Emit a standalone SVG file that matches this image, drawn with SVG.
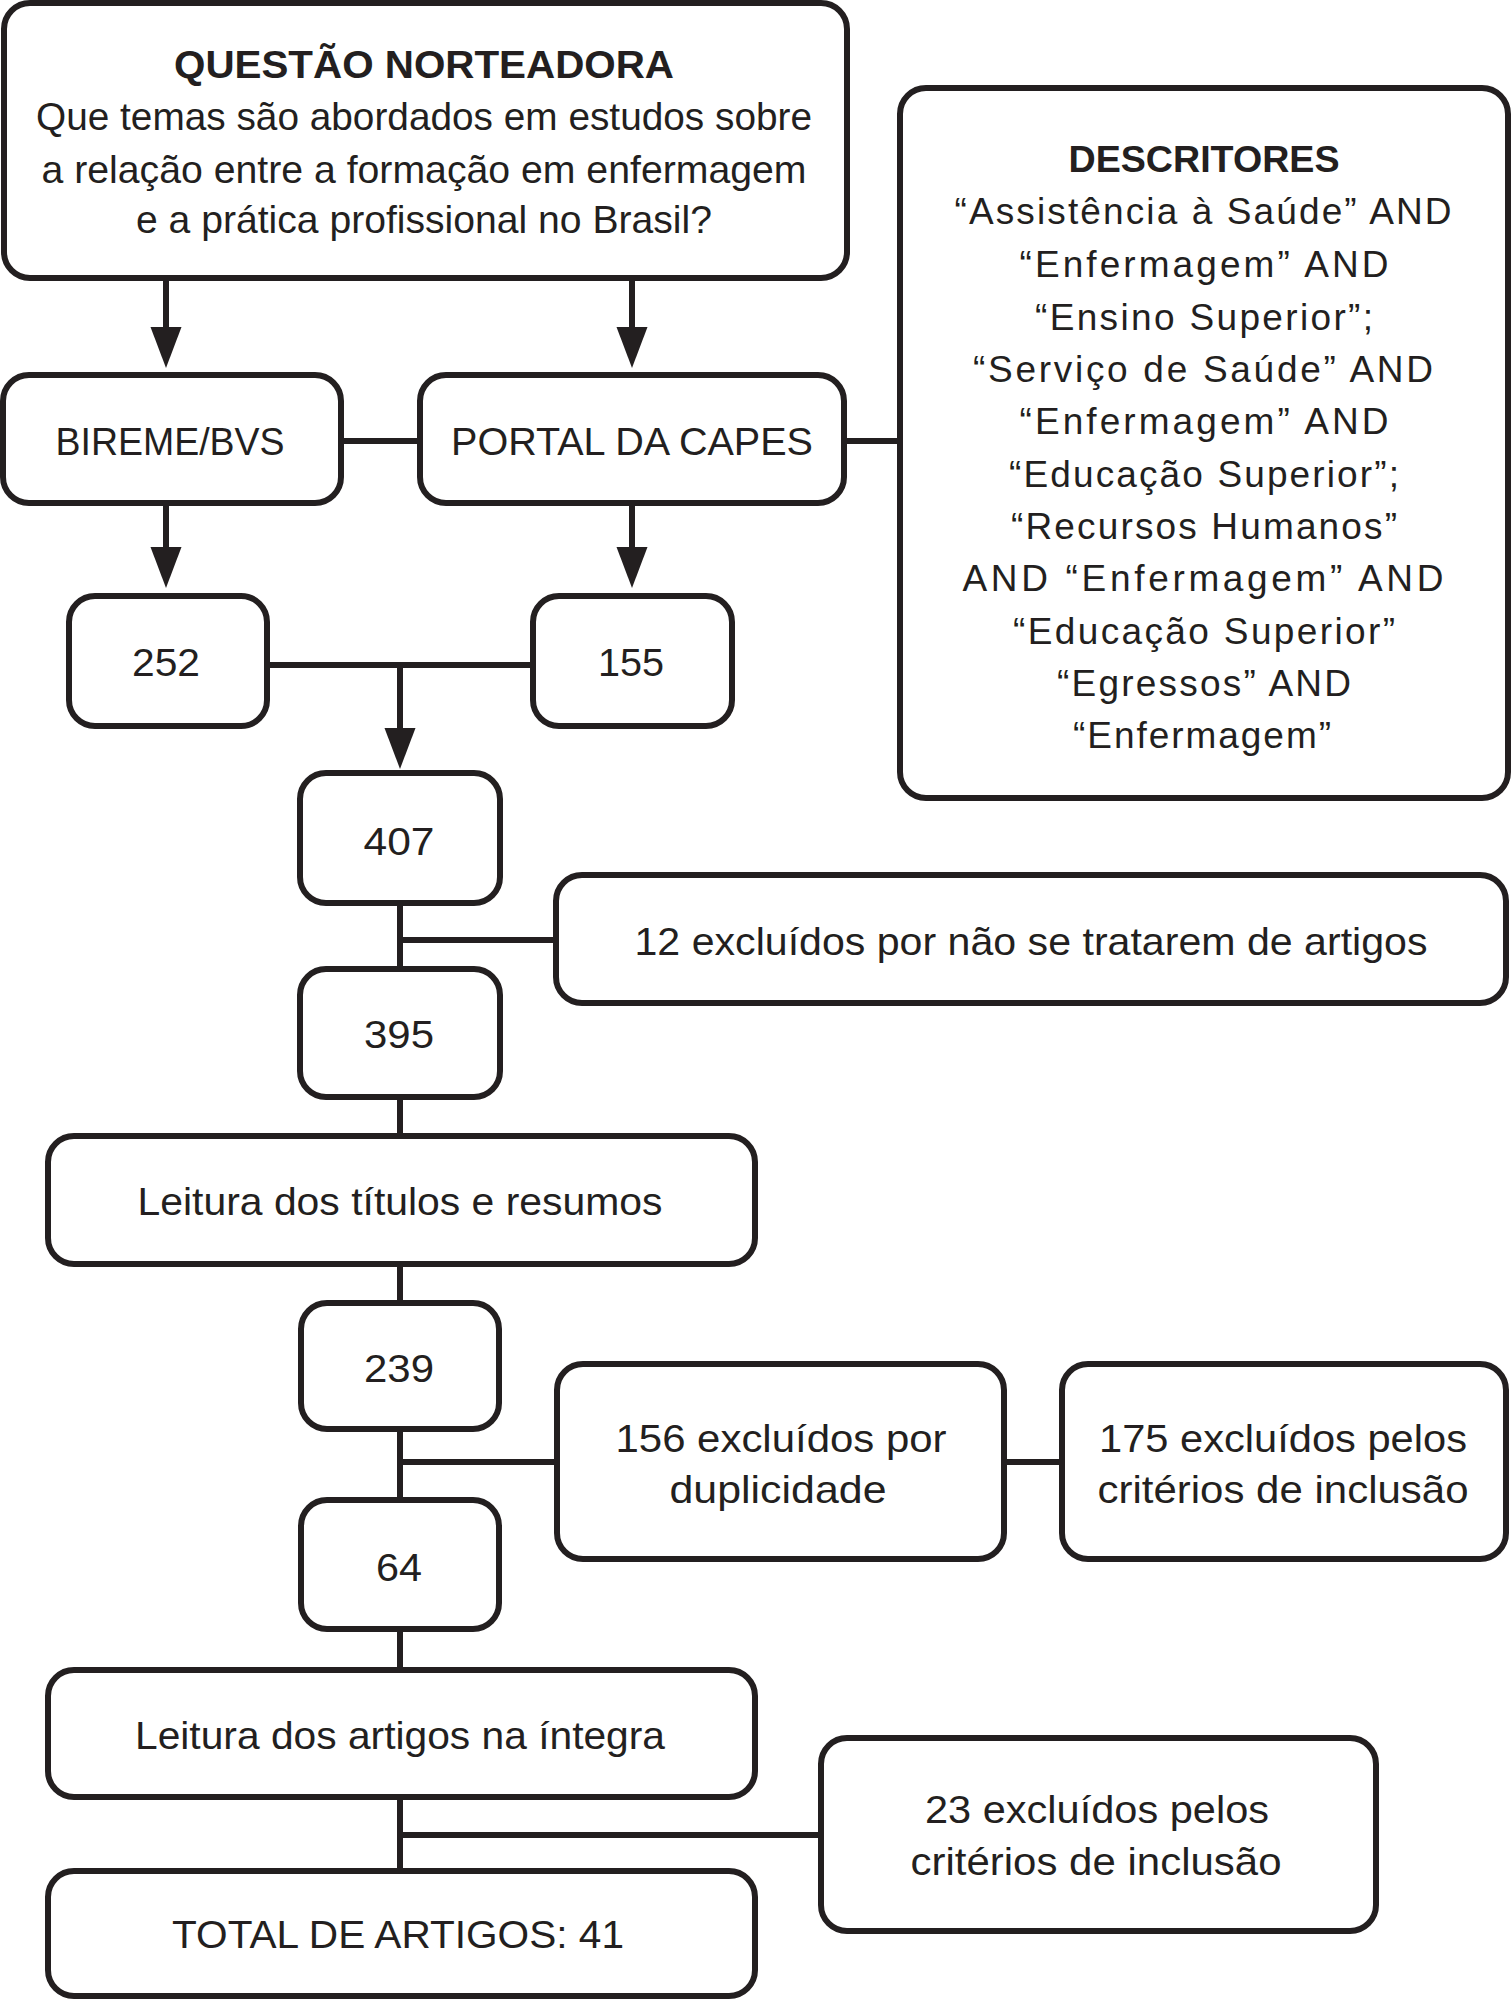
<svg xmlns="http://www.w3.org/2000/svg" width="1511" height="2000" viewBox="0 0 1511 2000">
<defs>
<style>
.box{fill:#fff;stroke:#231f20;stroke-width:6}
.ln{fill:none;stroke:#231f20;stroke-width:6}
text{font-family:"Liberation Sans",Arial,sans-serif;font-size:39px;fill:#231f20;text-anchor:middle}
.b{font-weight:bold}
.d{font-size:37px}
</style>
<marker id="ah" markerUnits="userSpaceOnUse" markerWidth="42" markerHeight="32" refX="10" refY="16" orient="auto" viewBox="0 0 42 32">
<path d="M0,0.5 L41,16 L0,31.5 z" fill="#231f20"/>
</marker>
</defs>
<rect width="1511" height="2000" fill="#fff"/>
<g id="connectors">
<line class="ln" x1="166" y1="278" x2="166" y2="337" marker-end="url(#ah)"/>
<line class="ln" x1="632" y1="278" x2="632" y2="337" marker-end="url(#ah)"/>
<line class="ln" x1="166" y1="503" x2="166" y2="557" marker-end="url(#ah)"/>
<line class="ln" x1="632" y1="503" x2="632" y2="557" marker-end="url(#ah)"/>
<line class="ln" x1="400" y1="665" x2="400" y2="738" marker-end="url(#ah)"/>
<line class="ln" x1="341" y1="441" x2="420" y2="441"/>
<line class="ln" x1="844" y1="441" x2="900" y2="441"/>
<line class="ln" x1="267" y1="665" x2="533" y2="665"/>
<line class="ln" x1="400" y1="903" x2="400" y2="969"/>
<line class="ln" x1="400" y1="940" x2="556" y2="940"/>
<line class="ln" x1="400" y1="1097" x2="400" y2="1136"/>
<line class="ln" x1="400" y1="1264" x2="400" y2="1303"/>
<line class="ln" x1="400" y1="1429" x2="400" y2="1500"/>
<line class="ln" x1="400" y1="1462" x2="557" y2="1462"/>
<line class="ln" x1="1004" y1="1462" x2="1062" y2="1462"/>
<line class="ln" x1="400" y1="1629" x2="400" y2="1670"/>
<line class="ln" x1="400" y1="1797" x2="400" y2="1871"/>
<line class="ln" x1="400" y1="1835" x2="821" y2="1835"/>
</g>
<g id="questao">
<rect class="box" x="4" y="3" width="843" height="275" rx="26"/>
<text class="b" x="424" y="78" textLength="500" lengthAdjust="spacingAndGlyphs">QUESTÃO NORTEADORA</text>
<text x="424" y="130" textLength="776" lengthAdjust="spacingAndGlyphs">Que temas são abordados em estudos sobre</text>
<text x="424" y="183" textLength="765" lengthAdjust="spacingAndGlyphs">a relação entre a formação em enfermagem</text>
<text x="424" y="233" textLength="576" lengthAdjust="spacingAndGlyphs">e a prática profissional no Brasil?</text>
</g>
<g id="descritores">
<rect class="box" x="900" y="88" width="608" height="710" rx="26"/>
<text class="b d" x="1204" y="172" textLength="271" lengthAdjust="spacingAndGlyphs">DESCRITORES</text>
<text class="d" x="1203" y="224" textLength="497" lengthAdjust="spacing">“Assistência à Saúde” AND</text>
<text class="d" x="1204" y="277" textLength="369" lengthAdjust="spacing">“Enfermagem” AND</text>
<text class="d" x="1204" y="330" textLength="338" lengthAdjust="spacing">“Ensino Superior”;</text>
<text class="d" x="1203" y="382" textLength="460" lengthAdjust="spacing">“Serviço de Saúde” AND</text>
<text class="d" x="1204" y="434" textLength="369" lengthAdjust="spacing">“Enfermagem” AND</text>
<text class="d" x="1204" y="487" textLength="390" lengthAdjust="spacing">“Educação Superior”;</text>
<text class="d" x="1204" y="539" textLength="386" lengthAdjust="spacing">“Recursos Humanos”</text>
<text class="d" x="1203" y="591" textLength="481" lengthAdjust="spacing">AND “Enfermagem” AND</text>
<text class="d" x="1204" y="644" textLength="382" lengthAdjust="spacing">“Educação Superior”</text>
<text class="d" x="1204" y="696" textLength="294" lengthAdjust="spacing">“Egressos” AND</text>
<text class="d" x="1202" y="748" textLength="258" lengthAdjust="spacing">“Enfermagem”</text>
</g>
<g id="bireme">
<rect class="box" x="3" y="375" width="338" height="128" rx="26"/>
<text x="170" y="455" textLength="229" lengthAdjust="spacingAndGlyphs">BIREME/BVS</text>
</g>
<g id="portal">
<rect class="box" x="420" y="375" width="424" height="128" rx="26"/>
<text x="632" y="455" textLength="362" lengthAdjust="spacingAndGlyphs">PORTAL DA CAPES</text>
</g>
<g id="n252">
<rect class="box" x="69" y="596" width="198" height="130" rx="26"/>
<text x="166" y="676" textLength="68" lengthAdjust="spacingAndGlyphs">252</text>
</g>
<g id="n155">
<rect class="box" x="533" y="596" width="199" height="130" rx="26"/>
<text x="631" y="676" textLength="66" lengthAdjust="spacingAndGlyphs">155</text>
</g>
<g id="n407">
<rect class="box" x="300" y="773" width="200" height="130" rx="26"/>
<text x="399" y="855" textLength="71" lengthAdjust="spacingAndGlyphs">407</text>
</g>
<g id="ex12">
<rect class="box" x="556" y="875" width="950" height="128" rx="26"/>
<text x="1031" y="955" textLength="793" lengthAdjust="spacingAndGlyphs">12 excluídos por não se tratarem de artigos</text>
</g>
<g id="n395">
<rect class="box" x="300" y="969" width="200" height="128" rx="26"/>
<text x="399" y="1048" textLength="70" lengthAdjust="spacingAndGlyphs">395</text>
</g>
<g id="leitura1">
<rect class="box" x="48" y="1136" width="707" height="128" rx="26"/>
<text x="400" y="1215" textLength="525" lengthAdjust="spacingAndGlyphs">Leitura dos títulos e resumos</text>
</g>
<g id="n239">
<rect class="box" x="301" y="1303" width="198" height="126" rx="26"/>
<text x="399" y="1382" textLength="70" lengthAdjust="spacingAndGlyphs">239</text>
</g>
<g id="ex156">
<rect class="box" x="557" y="1364" width="447" height="195" rx="26"/>
<text x="781" y="1452" textLength="331" lengthAdjust="spacingAndGlyphs">156 excluídos por</text>
<text x="778" y="1503" textLength="217" lengthAdjust="spacingAndGlyphs">duplicidade</text>
</g>
<g id="ex175">
<rect class="box" x="1062" y="1364" width="444" height="195" rx="26"/>
<text x="1283" y="1452" textLength="368" lengthAdjust="spacingAndGlyphs">175 excluídos pelos</text>
<text x="1283" y="1503" textLength="371" lengthAdjust="spacingAndGlyphs">critérios de inclusão</text>
</g>
<g id="n64">
<rect class="box" x="301" y="1500" width="198" height="129" rx="26"/>
<text x="399" y="1581" textLength="46" lengthAdjust="spacingAndGlyphs">64</text>
</g>
<g id="leitura2">
<rect class="box" x="48" y="1670" width="707" height="127" rx="26"/>
<text x="400" y="1749" textLength="530" lengthAdjust="spacingAndGlyphs">Leitura dos artigos na íntegra</text>
</g>
<g id="ex23">
<rect class="box" x="821" y="1738" width="555" height="193" rx="26"/>
<text x="1097" y="1823" textLength="344" lengthAdjust="spacingAndGlyphs">23 excluídos pelos</text>
<text x="1096" y="1875" textLength="371" lengthAdjust="spacingAndGlyphs">critérios de inclusão</text>
</g>
<g id="total">
<rect class="box" x="48" y="1871" width="707" height="125" rx="26"/>
<text x="398" y="1948" textLength="452" lengthAdjust="spacingAndGlyphs">TOTAL DE ARTIGOS: 41</text>
</g>
</svg>
